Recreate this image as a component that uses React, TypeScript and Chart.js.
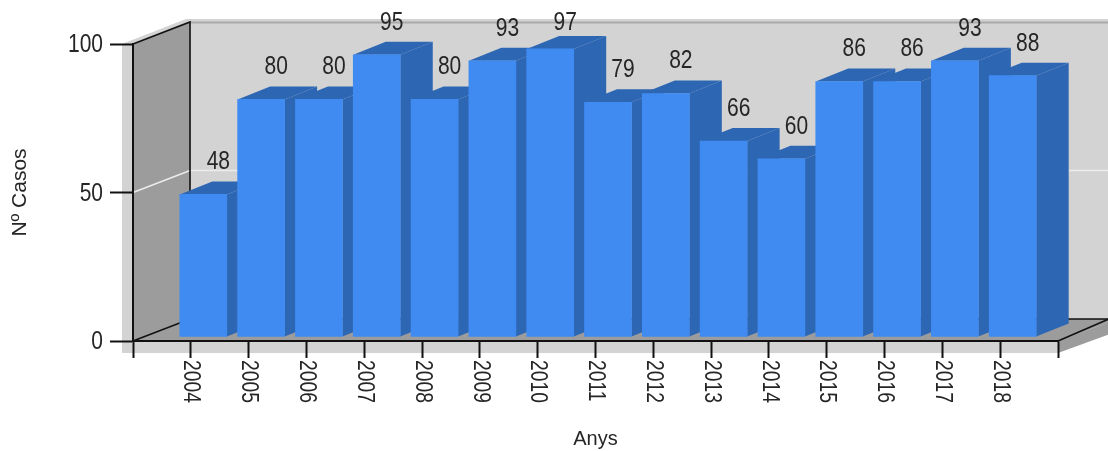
import React, { useEffect, useRef } from "react";
import { Chart, registerables } from "chart.js";

Chart.register(...registerables);

const years = [2004, 2005, 2006, 2007, 2008, 2009, 2010, 2011, 2012, 2013, 2014, 2015, 2016, 2017, 2018];
const cases = [48, 80, 80, 95, 80, 93, 97, 79, 82, 66, 60, 86, 86, 93, 88];
const yTickValues = [0, 50, 100];
const yTitle = "Nº Casos";
const xTitle = "Anys";

const FRONT = "#3f8bf2";
const SIDE = "#2d66b3";
const WALL = "#d3d3d3";
const SIDE_WALL = "#9c9c9c";
const INK = "#262626";
const FONT = "'Liberation Sans', Arial, sans-serif";
const SQUEEZE = 0.84; // the reference's numerals are horizontally condensed

// 3D projection offsets
const WALL_DX = 57, WALL_DY = -22;
const BAR_SHIFT_X = 12.5, BAR_SHIFT_Y = -4;
const BAR_DX = 32.5, BAR_DY = -13;

const poly = (ctx: CanvasRenderingContext2D, pts: number[][], fill: string) => {
  ctx.beginPath();
  pts.forEach(([x, y], i) => (i ? ctx.lineTo(x, y) : ctx.moveTo(x, y)));
  ctx.closePath();
  ctx.fillStyle = fill;
  ctx.fill();
};
const line = (ctx: CanvasRenderingContext2D, pts: number[][], color: string, w: number) => {
  ctx.beginPath();
  pts.forEach(([x, y], i) => (i ? ctx.lineTo(x, y) : ctx.moveTo(x, y)));
  ctx.strokeStyle = color;
  ctx.lineWidth = w;
  ctx.stroke();
};

// Draws the scale's own label items, condensed along the text direction.
function condensedLabels(this: any, chartArea: any, dx = 0, dy = 0) {
  const ctx = this.ctx;
  for (const item of this.getLabelItems(chartArea)) {
    const o = item.options;
    ctx.save();
    ctx.translate(o.translation[0] + dx, o.translation[1] + dy);
    ctx.rotate(o.rotation);
    ctx.scale(SQUEEZE, 1);
    ctx.font = item.font.string;
    ctx.fillStyle = o.color;
    ctx.textAlign = o.textAlign;
    ctx.textBaseline = o.textBaseline;
    ctx.fillText(String(item.label), 0, item.textOffset);
    ctx.restore();
  }
}

const walls = {
  id: "walls",
  beforeDraw(chart: any) {
    const { ctx, chartArea: a, width } = chart;
    const { left: l, right: r, top: t, bottom: b } = a;
    const dx = WALL_DX, dy = WALL_DY;
    ctx.save();
    // wall thickness band (left + bottom)
    poly(ctx, [[l - 11, t], [l + dx - 4, t + dy - 3], [width, t + dy - 3], [width, b + dy], [r + dx, b + dy], [r, b + 12], [l - 11, b + 12]], WALL);
    // back wall
    poly(ctx, [[l + dx, t + dy], [width, t + dy], [width, b + dy], [l + dx, b + dy]], WALL);
    // side wall and floor
    poly(ctx, [[l, t], [l + dx, t + dy], [l + dx, b + dy], [l, b]], SIDE_WALL);
    poly(ctx, [[l, b], [l + dx, b + dy], [width + 10, b + dy], [r, b]], SIDE_WALL);
    poly(ctx, [[r, b], [width + 10, b + dy], [width + 10, b + dy + 12], [r, b + 12]], SIDE_WALL);
    // top line on the back wall
    line(ctx, [[l + dx, t + dy + 0.5], [width, t + dy + 0.5]], "#a9a9a9", 2);
    // 50 gridline
    const y = chart.scales.y.getPixelForValue(yTickValues[1]);
    line(ctx, [[l, y], [l + dx, y + dy], [width, y + dy]], "#ececec", 1.5);
    // wall edges
    line(ctx, [[l, t], [l + dx, t + dy], [l + dx, b + dy]], "#111", 1.6);
    line(ctx, [[l, b], [l + dx, b + dy], [width, b + dy]], "#111", 1.6);
    line(ctx, [[r, b], [width + 10, b + dy - 4]], "#111", 1.6);
    ctx.restore();
  },
  beforeDatasetsDraw(chart: any) {
    const { ctx } = chart;
    const meta = chart.getDatasetMeta(0);
    ctx.save();
    ctx.translate(BAR_SHIFT_X, BAR_SHIFT_Y);
    meta.data.forEach((bar: any) => {
      const half = bar.width / 2;
      const L = bar.x - half, R = bar.x + half, T = bar.y, B = bar.base;
      poly(ctx, [[L, T], [L + BAR_DX, T + BAR_DY], [R + BAR_DX, T + BAR_DY], [R, T]], SIDE);
      poly(ctx, [[R, T], [R + BAR_DX, T + BAR_DY], [R + BAR_DX, B + BAR_DY], [R, B]], SIDE);
    });
    ctx.restore();
  },
  beforeDatasetDraw(chart: any) {
    chart.ctx.save();
    chart.ctx.translate(BAR_SHIFT_X, BAR_SHIFT_Y);
  },
  afterDatasetDraw(chart: any) {
    chart.ctx.restore();
  },
  afterDatasetsDraw(chart: any) {
    const { ctx } = chart;
    const meta = chart.getDatasetMeta(0);
    ctx.save();
    ctx.font = `25px ${FONT}`;
    ctx.fillStyle = INK;
    ctx.textAlign = "center";
    ctx.textBaseline = "middle";
    meta.data.forEach((bar: any, i: number) => {
      const y = Math.max(bar.y + BAR_SHIFT_Y - 34, 21.5);
      ctx.save();
      ctx.translate(bar.x + BAR_SHIFT_X + 15, y + 2);
      ctx.scale(SQUEEZE, 1);
      ctx.fillText(String(cases[i]), 0, 0);
      ctx.restore();
    });
    ctx.restore();
  },
};

export default function App() {
  const ref = useRef<HTMLCanvasElement>(null);
  useEffect(() => {
    if (!ref.current) return;
    const chart = new Chart(ref.current, {
      type: "bar",
      data: {
        datasets: [
          {
            label: yTitle,
            data: years.map((x, i) => ({ x, y: cases[i] })),
            backgroundColor: FRONT,
            borderWidth: 0,
            barThickness: 47,
            clip: false,
          } as any,
        ],
      },
      plugins: [walls],
      options: {
        responsive: false,
        animation: false,
        layout: { padding: { left: 0, right: 50, top: 44, bottom: 0 } },
        plugins: { legend: { display: false }, tooltip: { enabled: false } },
        scales: {
          x: {
            type: "linear",
            offset: false,
            min: years[0] - 1,
            max: years[years.length - 1] + 1,
            afterFit(scale: any) {
              scale.height = 110;
            },
            beforeUpdate(scale: any) {
              scale._getXAxisLabelAlignment = () => "left";
              scale.drawLabels = function (area: any) {
                condensedLabels.call(this, area, 0, 0);
              };
            },
            grid: { offset: false, drawOnChartArea: false, tickLength: 17, tickColor: "#111", tickWidth: 2 },
            border: { color: "#111", width: 2 },
            ticks: {
              stepSize: 1,
              autoSkip: false,
              minRotation: -90,
              maxRotation: -90,
              padding: 2,
              color: INK,
              font: { family: FONT, size: 23 },
              callback: (v: any) => (years.includes(v) ? String(v) : ""),
            },
            title: { display: true, text: xTitle, color: INK, font: { family: FONT, size: 20 }, padding: { top: -1.5, bottom: 0 } },
          },
          y: {
            min: 0,
            max: 100,
            afterFit(scale: any) {
              scale.width = 133;
            },
            afterBuildTicks(scale: any) {
              scale.ticks = yTickValues.map((value) => ({ value }));
            },
            beforeUpdate(scale: any) {
              scale.drawLabels = function (area: any) {
                condensedLabels.call(this, area, 0, 1.5);
              };
            },
            grid: { drawOnChartArea: false, tickLength: 23, tickColor: "#111", tickWidth: 2 },
            border: { color: "#111", width: 2 },
            ticks: { padding: 7, color: INK, font: { family: FONT, size: 25 } },
            title: { display: true, text: yTitle, color: INK, font: { family: FONT, size: 21 }, padding: { top: 7.5, bottom: 0 } },
          },
        },
      },
    } as any);
    return () => chart.destroy();
  }, []);
  return (
    <div style={{ position: "absolute", left: 0, top: 0 }}>
      <canvas ref={ref} width={1108} height={451} style={{ display: "block" }} />
    </div>
  );
}
